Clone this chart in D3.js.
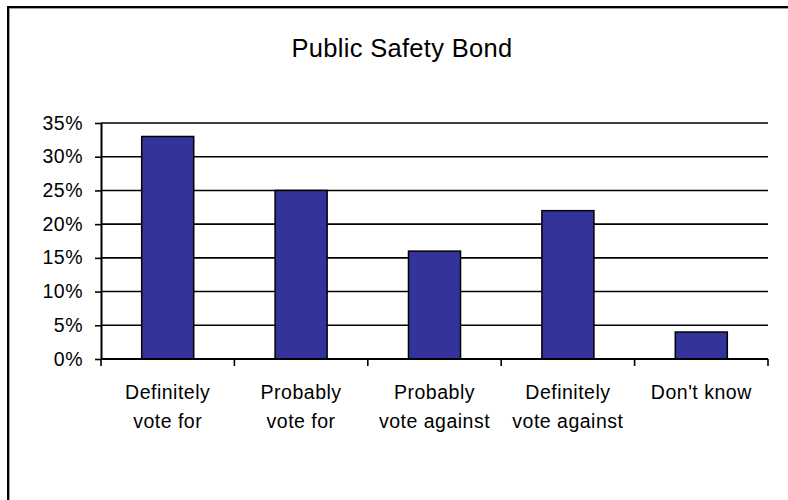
<!DOCTYPE html>
<html>
<head>
<meta charset="utf-8">
<script src="https://cdn.jsdelivr.net/npm/d3@7"></script>
<style>
  html, body { margin: 0; padding: 0; background: #fff; }
  svg { display: block; }
  text { font-family: "Liberation Sans", Arial, sans-serif; fill: #000; }
</style>
</head>
<body>
<svg id="chart" width="788" height="500"></svg>
<script>
const title = "Public Safety Bond";
const categories = [
  ["Definitely", "vote for"],
  ["Probably", "vote for"],
  ["Probably", "vote against"],
  ["Definitely", "vote against"],
  ["Don't know"]
];
const values = [0.33, 0.25, 0.16, 0.22, 0.04];
const yTicks = [0, 0.05, 0.10, 0.15, 0.20, 0.25, 0.30, 0.35];

const svg = d3.select("#chart");
const W = 788, H = 500;
const plot = { left: 101, right: 768, top: 123, bottom: 359 };

// frame (top and left edges of the chart window)
svg.append("rect").attr("x", 7).attr("y", 6).attr("width", W - 7).attr("height", 2).attr("fill", "#000");
svg.append("rect").attr("x", 7).attr("y", 6).attr("width", 2).attr("height", H - 6).attr("fill", "#000");
svg.append("rect").attr("x", 9).attr("y", 8).attr("width", W - 9).attr("height", 1).attr("fill", "#a0a0a0");
svg.append("rect").attr("x", 9).attr("y", 8).attr("width", 1).attr("height", H - 8).attr("fill", "#a0a0a0");

svg.append("text")
  .attr("x", 402).attr("y", 57)
  .attr("text-anchor", "middle")
  .style("font-size", "25.5px")
  .style("letter-spacing", "0.3px")
  .text(title);

const keys = categories.map((c, i) => i);
const x = d3.scaleBand().domain(keys).range([plot.left, plot.right]).padding(0);
const y = d3.scaleLinear().domain([0, 0.35]).range([plot.bottom, plot.top]);

// gridlines
svg.append("g").selectAll("line")
  .data(yTicks.filter(d => d > 0))
  .join("line")
  .attr("x1", plot.left).attr("x2", plot.right)
  .attr("y1", d => y(d)).attr("y2", d => y(d))
  .attr("stroke", "#000").attr("stroke-width", 1.6);

// bars
const bw = x.bandwidth() * 0.39;
svg.append("g").selectAll("rect")
  .data(values)
  .join("rect")
  .attr("x", (d, i) => x(i) + (x.bandwidth() - bw) / 2)
  .attr("y", d => y(d))
  .attr("width", bw)
  .attr("height", d => y(0) - y(d))
  .attr("fill", "#333399")
  .attr("stroke", "#000")
  .attr("stroke-width", 1.5);

// y axis
const yAxis = d3.axisLeft(y)
  .tickValues(yTicks)
  .tickFormat(d3.format(".0%"))
  .tickSize(6)
  .tickSizeOuter(0)
  .tickPadding(12);
const gy = svg.append("g").attr("transform", `translate(${plot.left},0)`).call(yAxis);
gy.select(".domain").attr("stroke", "#000").attr("stroke-width", 2);
gy.selectAll(".tick line").attr("stroke", "#000").attr("stroke-width", 1.6);
gy.selectAll(".tick text")
  .attr("dy", null).attr("y", 6)
  .style("font-size", "19.5px").style("font-family", "'Liberation Sans', Arial, sans-serif")
  .style("letter-spacing", "0.5px")
  .attr("fill", "#000");

// x axis line
svg.append("line")
  .attr("x1", plot.left).attr("x2", plot.right)
  .attr("y1", y(0)).attr("y2", y(0))
  .attr("stroke", "#000").attr("stroke-width", 2);

// x ticks at category boundaries
const bounds = keys.map(k => x(k)).concat([plot.right]);
svg.append("g").selectAll("line")
  .data(bounds)
  .join("line")
  .attr("x1", d => d).attr("x2", d => d)
  .attr("y1", y(0)).attr("y2", y(0) + 7)
  .attr("stroke", "#000").attr("stroke-width", 1.6);

// x labels
const lbl = svg.append("g").selectAll("text")
  .data(categories)
  .join("text")
  .attr("x", (d, i) => x(i) + x.bandwidth() / 2)
  .attr("y", 399)
  .attr("text-anchor", "middle")
  .style("font-size", "19.5px")
  .style("letter-spacing", "0.5px");
lbl.selectAll("tspan")
  .data(d => d)
  .join("tspan")
  .attr("x", function() { return this.parentNode.getAttribute("x"); })
  .attr("dy", (d, j) => j === 0 ? 0 : 29)
  .text(d => d);
</script>
</body>
</html>
